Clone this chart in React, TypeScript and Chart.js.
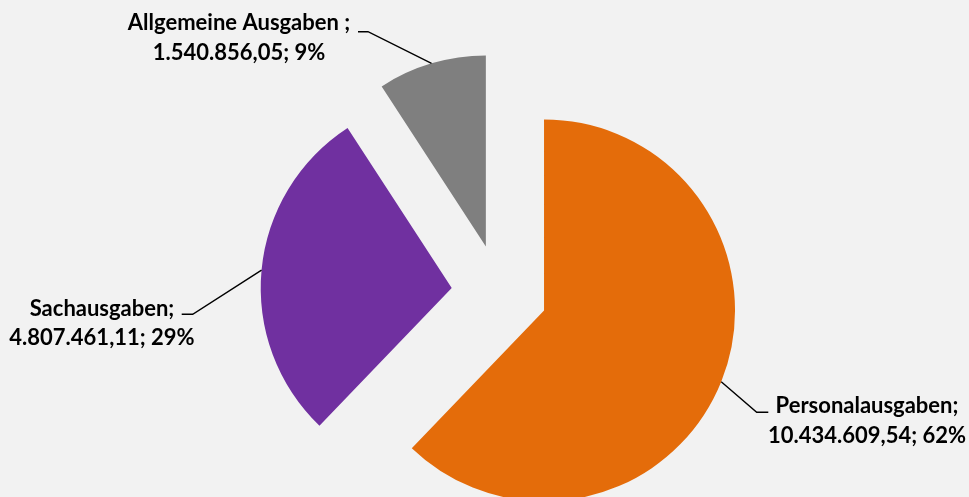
import React, { useEffect, useRef } from "react";
import { Chart, registerables } from "chart.js";

Chart.register(...registerables);

// ---- data ----
const categories = ["Personalausgaben", "Sachausgaben", "Allgemeine Ausgaben "];
const values = [10434609.54, 4807461.11, 1540856.05];
const colors = ["#E46C0A", "#7030A0", "#7F7F7F"];

// ---- layout constants ----
const RADIUS = 191;
const EXPLODE = 48;
const FONT = "bold 22px Lato";
const labelLayout = [
  { cx: 867, y1: 413, y2: 443, elbowX: 756.7, elbowY: 412.3, endX: 768.3 },
  { cx: 102, y1: 316, y2: 345, elbowX: 192.7, elbowY: 314.3, endX: 181.7 },
  { cx: 239, y1: 30, y2: 60, elbowX: 368, elbowY: 31.7, endX: 358 },
];

function formatDE(v: number): string {
  const fixed = v.toFixed(2);
  const [intPart, dec] = fixed.split(".");
  const withDots = intPart.replace(/\B(?=(\d{3})+(?!\d))/g, ".");
  return withDots + "," + dec;
}

const explodePlugin = {
  id: "explode",
  afterDatasetUpdate(chart: any, args: any) {
    const meta = chart.getDatasetMeta(args.index);
    meta.data.forEach((el: any) => {
      const mid = (el.startAngle + el.endAngle) / 2;
      el.x += Math.cos(mid) * EXPLODE;
      el.y += Math.sin(mid) * EXPLODE;
    });
  },
};

const bgPlugin = {
  id: "bg",
  beforeDraw(chart: any) {
    const ctx = chart.ctx;
    ctx.save();
    ctx.fillStyle = "#F2F2F2";
    ctx.fillRect(0, 0, chart.width, chart.height);
    ctx.restore();
  },
};

const labelPlugin = {
  id: "pieLabels",
  afterDatasetsDraw(chart: any) {
    const ctx = chart.ctx;
    const meta = chart.getDatasetMeta(0);
    const total = values.reduce((a, b) => a + b, 0);
    meta.data.forEach((el: any, i: number) => {
      const L = labelLayout[i];
      const mid = (el.startAngle + el.endAngle) / 2;
      const ax = el.x + Math.cos(mid) * el.outerRadius;
      const ay = el.y + Math.sin(mid) * el.outerRadius;
      ctx.save();
      ctx.strokeStyle = "#000000";
      ctx.lineWidth = 1.4;
      ctx.beginPath();
      ctx.moveTo(ax, ay);
      ctx.lineTo(L.elbowX, L.elbowY);
      ctx.lineTo(L.endX, L.elbowY);
      ctx.stroke();
      ctx.fillStyle = "#000000";
      ctx.font = FONT;
      ctx.textAlign = "center";
      ctx.textBaseline = "alphabetic";
      const pct = Math.round((values[i] / total) * 100) + "%";
      ctx.fillText(categories[i] + ";", L.cx, L.y1);
      ctx.fillText(formatDE(values[i]) + "; " + pct, L.cx, L.y2);
      ctx.restore();
    });
  },
};

export default function App() {
  const canvasRef = useRef<HTMLCanvasElement | null>(null);

  useEffect(() => {
    document.body.style.margin = "0";
    document.body.style.background = "#F2F2F2";
    const canvas = canvasRef.current;
    if (!canvas) return;
    const chart = new Chart(canvas, {
      type: "pie",
      data: {
        labels: categories,
        datasets: [
          {
            data: values,
            backgroundColor: colors,
            borderWidth: 0,
            radius: RADIUS,
            clip: false,
          } as any,
        ],
      },
      options: {
        animation: false,
        responsive: true,
        maintainAspectRatio: false,
        layout: { padding: { left: 30, top: 88, right: 0, bottom: 0 } },
        plugins: {
          legend: { display: false },
          tooltip: { enabled: false },
        },
      },
      plugins: [bgPlugin, explodePlugin, labelPlugin],
    });
    return () => chart.destroy();
  }, []);

  return (
    <div style={{ position: "relative", width: "969px", height: "497px" }}>
      <canvas ref={canvasRef} />
    </div>
  );
}
